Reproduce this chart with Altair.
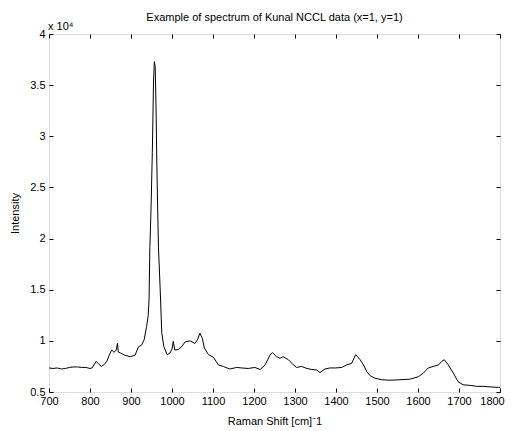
import altair as alt
import pandas as pd

# Raman shift (cm^-1) and intensity values
shift = [700, 710, 720, 730, 740, 750, 760, 770, 780, 790, 800, 805, 815, 822, 828,
         835, 841, 848, 853, 858, 861, 864, 867, 869, 875, 885, 898, 910, 918, 926,
         932, 938, 942, 944, 946, 949, 952, 955, 957, 959, 961, 963, 965, 967, 971,
         975, 980, 988, 995, 1000, 1003, 1007, 1015, 1024, 1032, 1044, 1056, 1062,
         1068, 1074, 1079, 1089, 1101, 1113, 1125, 1141, 1158, 1170, 1186, 1202, 1215,
         1227, 1239, 1245, 1255, 1263, 1271, 1284, 1296, 1304, 1316, 1329, 1341, 1353,
         1361, 1373, 1385, 1398, 1414, 1426, 1438, 1448, 1459, 1467, 1475, 1483, 1495,
         1511, 1532, 1556, 1580, 1601, 1613, 1625, 1637, 1650, 1658, 1664, 1674, 1686,
         1698, 1710, 1727, 1743, 1759, 1776, 1796, 1800]
intensity = [7350, 7300, 7350, 7250, 7300, 7400, 7450, 7450, 7400, 7400, 7300, 7350, 8000,
             7700, 7500, 7700, 8000, 8700, 9100, 8900, 8950, 9100, 9750, 8900, 8800, 8600,
             8450, 8600, 9400, 9600, 10100, 11400, 12500, 14000, 19100, 23100, 28400,
             35500, 37300, 36800, 33000, 27400, 23000, 19100, 15200, 10800, 9450, 8650,
             8800, 9200, 9950, 9100, 9150, 9450, 9900, 10000, 9750, 10100, 10750, 10250,
             9300, 8650, 8400, 7650, 7500, 7250, 7400, 7350, 7300, 7400, 7200, 7650, 8600,
             8850, 8450, 8300, 8450, 8150, 7650, 7400, 7500, 7300, 7200, 7150, 6900, 7250,
             7350, 7350, 7400, 7650, 7800, 8650, 8150, 7650, 7000, 6600, 6350, 6200, 6150,
             6200, 6250, 6500, 6850, 7350, 7500, 7650, 8000, 8150, 7650, 6850, 6000, 5700,
             5650, 5550, 5550, 5500, 5450, 5450]

x_ticks = [700, 800, 900, 1000, 1100, 1200, 1300, 1400, 1500, 1600, 1700, 1800]
y_ticks = [5000, 10000, 15000, 20000, 25000, 30000, 35000, 40000]

df = pd.DataFrame({"shift": shift, "intensity": intensity})

FONT = "Liberation Sans"

xscale = alt.Scale(domain=[700, 1800], nice=False, zero=False)
yscale = alt.Scale(domain=[5000, 40000], nice=False, zero=False)

common = dict(domain=False, grid=False, offset=-4, tickSize=4, tickColor="black",
              labelFont=FONT, titleFont=FONT, labelFontSize=11, titleFontSize=11,
              labelColor="black", titleColor="black", titleFontWeight="normal",
              labelOverlap=False)

main = alt.Chart(df).mark_line(color="black", strokeWidth=1).encode(
    x=alt.X("shift:Q", scale=xscale,
            axis=alt.Axis(orient="bottom", values=x_ticks, title="Raman Shift [cm]⁻1",
                          format="d", labelPadding=3, labelFlush=False,
                          labelOffset={"condition": {"test": "datum.value >= 1800",
                                                     "value": -8},
                                       "value": 0},
                          titlePadding=9, **common)),
    y=alt.Y("intensity:Q", scale=yscale,
            axis=alt.Axis(orient="left", values=y_ticks, title="Intensity",
                          labelExpr="datum.value / 10000", labelPadding=4,
                          titlePadding=9, **common)),
)

frame = alt.Chart(df).mark_line(strokeOpacity=0).encode(
    x=alt.X("shift:Q", scale=xscale,
            axis=alt.Axis(orient="top", values=x_ticks, title=None, labels=False, **common)),
    y=alt.Y("intensity:Q", scale=yscale,
            axis=alt.Axis(orient="right", values=y_ticks, title=None, labels=False, **common)),
)

exponent = alt.Chart(pd.DataFrame({"t": ["x 10⁴"]})).mark_text(
    align="left", baseline="bottom", font=FONT, fontSize=11, color="black"
).encode(text="t:N", x=alt.value(-1), y=alt.value(-2))

chart = alt.layer(main, frame, exponent).resolve_axis(
    x="independent", y="independent"
).properties(
    width=451, height=358,
    title=alt.TitleParams("Example of spectrum of Kunal NCCL data (x=1, y=1)",
                          font=FONT, fontSize=11, fontWeight="normal", color="black",
                          anchor="middle", frame="group", offset=12, dy=14),
    autosize=alt.AutoSizeParams(type="none"),
    padding={"left": 41, "top": 26, "right": 6, "bottom": 36},
).configure_view(stroke="black", strokeWidth=1).configure(background="white")

chart.save("out.html", embed_options={"renderer": "svg", "actions": False})
